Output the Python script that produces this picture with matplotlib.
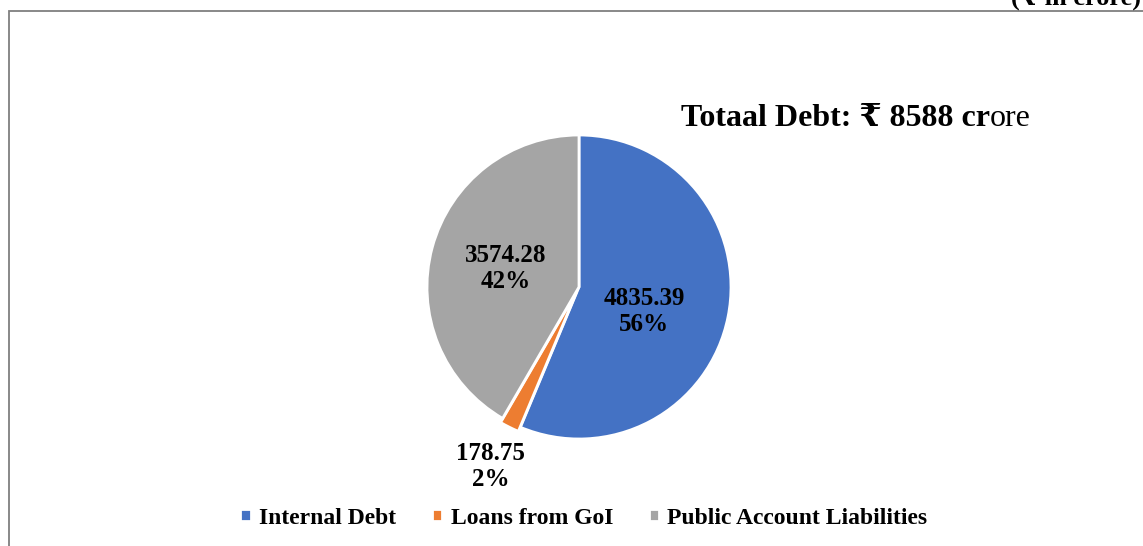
import matplotlib.pyplot as plt
from matplotlib.patches import Rectangle

plt.rcParams['font.family'] = ['Liberation Serif', 'DejaVu Serif']

# data
categories = ['Internal Debt', 'Loans from GoI', 'Public Account Liabilities']
amounts = [4835.39, 178.75, 3574.28]
pct_labels = ['56%', '2%', '42%']
colors = ['#4472C4', '#ED7D31', '#A5A5A5']

W, H = 1143, 546
fig = plt.figure(figsize=(W / 100, H / 100), dpi=100)

# outer frame
fig.patches.append(Rectangle((9 / W, -0.1), 1.2, (H - 11) / H + 0.1, transform=fig.transFigure,
                             fill=False, edgecolor='#7f7f7f', linewidth=1.3))

cx, cy, r = 579, 287, 152
ax = fig.add_axes([(cx - r) / W, (H - cy - r) / H, 2 * r / W, 2 * r / H])
wedges, _ = ax.pie(amounts, colors=colors, startangle=90, counterclock=False,
                   explode=[0, 0.03, 0], radius=1,
                   wedgeprops=dict(edgecolor='white', linewidth=2))
ax.set_xlim(-1, 1)
ax.set_ylim(-1, 1)
ax.set_aspect('equal')
ax.axis('off')

# data labels
label_pos = [(0.43, -0.16), (-0.58, -1.18), (-0.48, 0.12)]
for (x, y), a, p in zip(label_pos, amounts, pct_labels):
    ax.text(x, y, f'{a:.2f}\n{p}', ha='center', va='center', fontsize=18,
            fontweight='bold', linespacing=1.15, clip_on=False)

# title (bold part + regular tail)
t1 = fig.text(681 / W, 1 - 118 / H, 'Totaal Debt: \u20b9 8588 cr', fontsize=23,
              fontweight='bold', ha='left', va='center')
fig.canvas.draw()
bb = t1.get_window_extent()
fig.text(bb.x1 / W, 1 - 118 / H, 'ore', fontsize=23, ha='left', va='center')

# unit note, partly outside the top edge as in the source
fig.text(1141 / W, 1 + 2 / H, '(\u20b9 in crore)', fontsize=19, fontweight='bold',
         ha='right', va='center')

leg = fig.legend(wedges, categories, loc='center', bbox_to_anchor=(584 / W, 1 - 518 / H),
                 ncol=3, frameon=False, prop=dict(size=17, weight='bold'),
                 handlelength=0.45, handleheight=0.45, handletextpad=0.35, columnspacing=1.5)

fig.savefig('out.png', dpi=100)
